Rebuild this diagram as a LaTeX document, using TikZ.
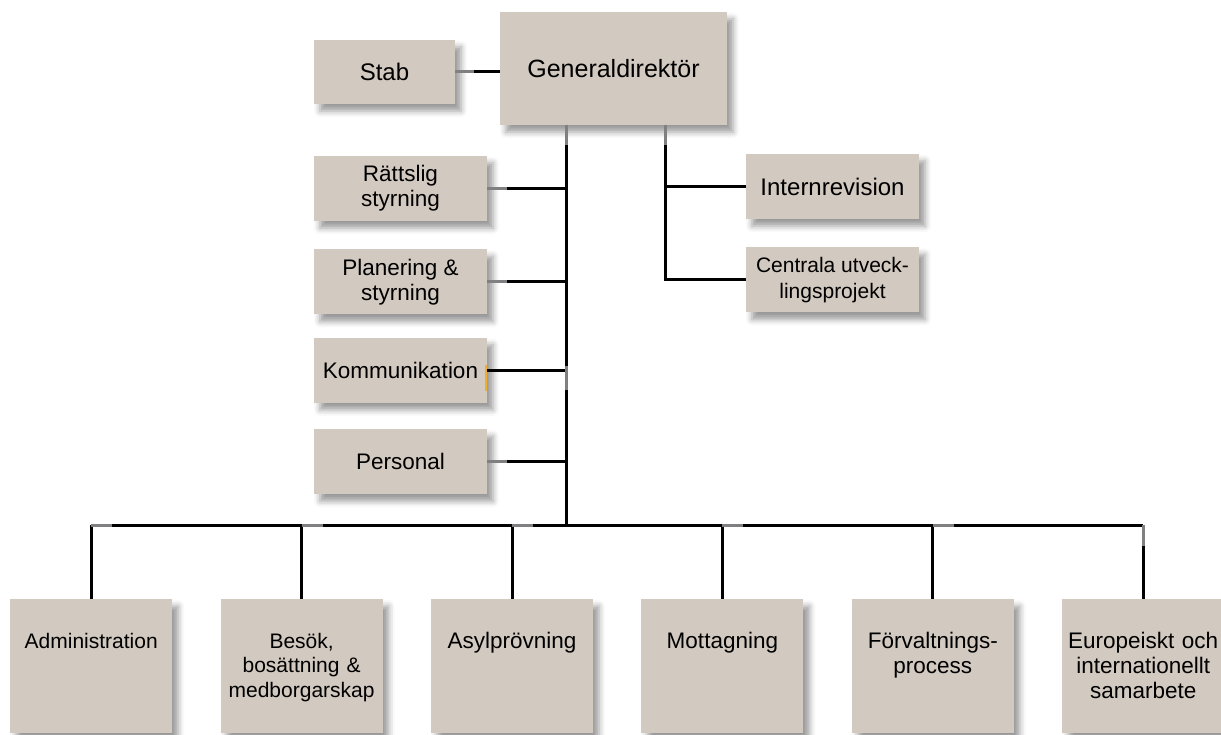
\documentclass[tikz,border=0pt]{standalone}
\usepackage{fontspec}
\setmainfont{Liberation Sans}
\usetikzlibrary{positioning, shadows.blur}

\definecolor{boxfill}{RGB}{210,201,192}
\definecolor{stubgray}{RGB}{128,128,130}
\definecolor{tickorange}{RGB}{240,175,40}

\tikzset{
  unit/.style={fill=boxfill, align=center,
    blur shadow={shadow xshift=6pt, shadow yshift=-7pt, shadow blur radius=6pt, shadow opacity=40}},
  staffbox/.style={unit, minimum width=173pt, minimum height=65pt,
    font=\fontsize{22.5}{25}\selectfont},
  deptbox/.style={unit, text width=162pt, inner sep=0pt,
    text height=49pt, text depth=85pt, font=\fontsize{22.5}{25}\selectfont},
  link/.style={line width=3pt},
  stub/.style={line width=3pt, stubgray},
}

\begin{document}
\begin{tikzpicture}[x=1pt, y=-1pt]
\useasboundingbox (0,0) rectangle (1221,735);

% Top
\node[unit, minimum width=227pt, minimum height=113pt,
    font=\fontsize{25}{29}\selectfont] (gd) at (613.5,68.5) {Generaldirektör};
\node[unit, minimum width=141pt, minimum height=64pt,
    font=\fontsize{24}{28}\selectfont] (stab) at (384.5,72) {Stab};

% Staff units, left
\node[staffbox] (ratt) at (400.5,188.5) {Rättslig\\styrning};
\node[staffbox, below=28pt of ratt] (plan) {Planering \&\\styrning};
\node[staffbox, below=23pt of plan] (komm) {Kommunikation};
\node[staffbox, below=26pt of komm] (pers) {Personal};

% Staff units, right
\node[staffbox, font=\fontsize{24}{28}\selectfont] (intrev) at (832.5,186.5) {Internrevision};
\node[staffbox, below=28pt of intrev,
    font=\fontsize{21}{26}\selectfont] (utv) {Centrala utveck-\\lingsprojekt};

% Departments
\node[deptbox, anchor=north west, font=\fontsize{21}{24.5}\selectfont] (adm) at (10,599) {Administration};
\node[deptbox, right=48pt of adm, font=\fontsize{21}{24.5}\selectfont] (besok) {Besök,\\bosättning \&\\medborgarskap};
\node[deptbox, right=48pt of besok] (asyl) {Asylprövning};
\node[deptbox, right=48pt of asyl] (mott) {Mottagning};
\node[deptbox, right=48pt of mott] (forv) {Förvaltnings-\\process};
\node[deptbox, right=48pt of forv] (europ) {Europeiskt och\\internationellt\\samarbete};

% Connectors
\coordinate (trunk) at (566,125);
\coordinate (branch) at (665,125);
\coordinate (bus) at (566,525);

\draw[link] (stab.east) -- (stab.east -| gd.west);
\draw[link] (trunk) -- (bus);
\foreach \n in {ratt,plan,komm,pers}
  \draw[link] (\n.east) -- (\n.east -| trunk);
\draw[link] (branch) |- (utv.west);
\draw[link] (branch |- intrev.west) -- (intrev.west);
\draw[link] (adm.north |- bus) -- (europ.north |- bus);
\foreach \n in {adm,besok,asyl,mott,forv,europ}
  \draw[link] (\n.north |- bus) -- (\n.north);

% Grey line ends
\draw[stub] (stab.east) -- ++(19,0);
\foreach \n in {ratt,plan,pers}
  \draw[stub] (\n.east) -- ++(20,0);
\draw[stub] (trunk) -- ++(0,20);
\draw[stub] (branch) -- ++(0,20);
\draw[stub] ([yshift=4pt]komm.east -| trunk) -- ++(0,24);
\draw[tickorange, line width=1.5pt] ([xshift=-1pt, yshift=5pt]komm.east) -- ++(0,26);
\foreach \n in {adm,besok,asyl,mott,forv}
  \draw[stub] (\n.north |- bus) -- ++(21,0);
\draw[stub] (europ.north |- bus) -- ++(0,21);

\end{tikzpicture}
\end{document}
